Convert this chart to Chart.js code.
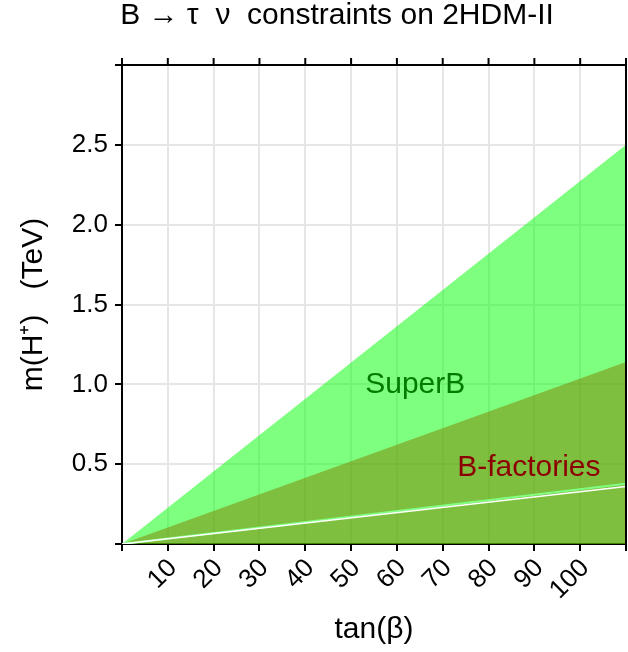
<!DOCTYPE html>
<html>
<head>
<meta charset="utf-8">
<script src="https://cdn.jsdelivr.net/npm/chart.js@4.4.1/dist/chart.umd.min.js"></script>
<style>
  html, body { margin: 0; padding: 0; background: #ffffff; }
  #wrap { width: 628px; height: 652px; }
</style>
</head>
<body>
<div id="wrap"><canvas id="c" width="628" height="652"></canvas></div>
<script>
// ---- data ----
const chartTitle = "B \u2192 \u03C4  \u03BD  constraints on 2HDM-II";
const xTitle = "tan(\u03B2)";
const yTitle = "m(H\u207A)   (TeV)";
const tanBeta = [0, 110];                 // x extent of the wedges
const superBUpper = [0, 2.5];             // SuperB excluded region upper edge (TeV)
const bFactUpper = [0, 1.14];             // B-factories region upper edge (TeV)
const gapLow = [0, 0.36];                 // thin white line
const gapHigh = [0, 0.378];               // thin light-green line
const xTicks = [0, 10, 20, 30, 40, 50, 60, 70, 80, 90, 100, 110];
const xTickLabels = ["", "10", "20", "30", "40", "50", "60", "70", "80", "90", "100", ""];
const yTicks = [0, 0.5, 1.0, 1.5, 2.0, 2.5, 3.0];
const yTickLabels = ["", "0.5", "1.0", "1.5", "2.0", "2.5", ""];
const annotations = [
  { text: "SuperB", x: 64, y: 1.0, color: "#007a00" },
  { text: "B-factories", x: 88.8, y: 0.477, color: "#8b0000" }
];

const FONT = "'Liberation Sans', Arial, Helvetica, sans-serif";
const pts = (xs, ys) => xs.map((x, i) => ({ x: x, y: ys[i] }));

const framePlugin = {
  id: 'frame',
  afterDatasetsDraw(chart) {
    const { ctx, chartArea: a, scales } = chart;
    ctx.save();
    // annotations
    ctx.textAlign = 'center';
    ctx.textBaseline = 'middle';
    ctx.font = "30px " + FONT;
    annotations.forEach(an => {
      ctx.fillStyle = an.color;
      ctx.fillText(an.text, scales.x.getPixelForValue(an.x), scales.y.getPixelForValue(an.y));
    });
    // top and right border + top ticks
    ctx.strokeStyle = '#000';
    ctx.lineWidth = 2;
    ctx.beginPath();
    ctx.moveTo(a.left, a.top); ctx.lineTo(a.right, a.top);
    ctx.moveTo(a.right, a.top); ctx.lineTo(a.right, a.bottom);
    xTicks.forEach(v => {
      const px = scales.x.getPixelForValue(v);
      ctx.moveTo(px, a.top); ctx.lineTo(px, a.top - 7);
    });
    ctx.stroke();
    // title
    ctx.fillStyle = '#000';
    ctx.font = "30px " + FONT;
    ctx.textAlign = 'center';
    ctx.textBaseline = 'middle';
    ctx.fillText(chartTitle, 337, 16);
    ctx.restore();
  }
};

new Chart(document.getElementById('c'), {
  type: 'scatter',
  data: {
    datasets: [
      { label: 'SuperB', data: pts(tanBeta, superBUpper), showLine: true, fill: 'origin',
        backgroundColor: 'rgba(0,255,0,0.5)', borderWidth: 0, pointRadius: 0, order: 4 },
      { label: 'B-factories', data: pts(tanBeta, bFactUpper), showLine: true, fill: 'origin',
        backgroundColor: 'rgba(128,128,0,0.5)', borderWidth: 0, pointRadius: 0, order: 3 },
      { label: 'edge', data: pts(tanBeta, gapHigh), showLine: true, fill: false,
        borderColor: '#80ff80', borderWidth: 2, pointRadius: 0, order: 2 },
      { label: 'gap', data: pts(tanBeta, gapLow), showLine: true, fill: false,
        borderColor: '#ffffff', borderWidth: 1.5, pointRadius: 0, order: 1 }
    ]
  },
  options: {
    responsive: false,
    animation: false,
    layout: { padding: { top: 65, right: 2, left: 0, bottom: 0 } },
    plugins: { legend: { display: false }, tooltip: { enabled: false }, title: { display: false } },
    scales: {
      x: {
        type: 'linear', min: 0, max: 110,
        afterBuildTicks: s => { s.ticks = xTicks.map(v => ({ value: v })); },
        afterFit: s => { s.height = 108; s.paddingLeft = 0; s.paddingRight = 0; },
        grid: { color: '#e6e6e6', lineWidth: 2, drawTicks: true, tickLength: 7, tickColor: '#000', tickWidth: 2 },
        border: { color: '#000', width: 2 },
        ticks: {
          minRotation: 45, maxRotation: 45, autoSkip: false, padding: 2, labelOffset: 5,
          color: '#000', font: { family: FONT, size: 26 },
          callback: (v) => xTickLabels[xTicks.indexOf(v)] ?? ''
        },
        title: { display: true, text: xTitle, color: '#000', font: { family: FONT, size: 30 }, padding: { top: 0, bottom: 4 } }
      },
      y: {
        type: 'linear', min: 0, max: 3,
        afterBuildTicks: s => { s.ticks = yTicks.map(v => ({ value: v })); },
        afterFit: s => { s.width = 122; s.paddingTop = 0; s.paddingBottom = 0; },
        grid: { color: '#e6e6e6', lineWidth: 2, drawTicks: true, tickLength: 7, tickColor: '#000', tickWidth: 2 },
        border: { color: '#000', width: 2 },
        ticks: {
          autoSkip: false, padding: 7, color: '#000', font: { family: FONT, size: 26 },
          callback: (v) => yTickLabels[yTicks.indexOf(v)] ?? ''
        },
        title: { display: true, text: yTitle, color: '#000', font: { family: FONT, size: 30 }, padding: { top: 16, bottom: 0 } }
      }
    }
  },
  plugins: [framePlugin]
});
</script>
</body>
</html>
